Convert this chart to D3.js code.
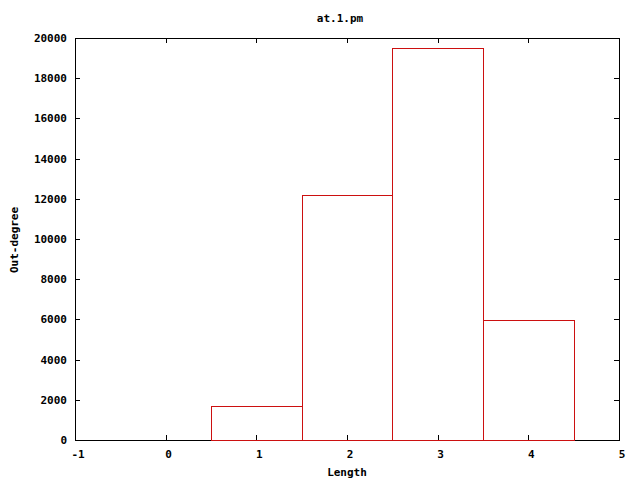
<!DOCTYPE html>
<html><head><meta charset="utf-8">
<script src="https://cdn.jsdelivr.net/npm/d3@7"></script>
<style>body{margin:0;background:#fff}svg{display:block}text{font-family:"DejaVu Sans Mono",monospace;font-weight:bold;font-size:11px;fill:#000}</style>
</head><body>
<svg id="c" width="640" height="480"></svg>
<script>
const categories = [1, 2, 3, 4];
const values = [1700, 12200, 19500, 5950];
const xTicks = [-1, 0, 1, 2, 3, 4, 5];
const yTicks = [0, 2000, 4000, 6000, 8000, 10000, 12000, 14000, 16000, 18000, 20000];
const title = "at.1.pm", xLabel = "Length", yLabel = "Out-degree";

const svg = d3.select("#c");
const L = 75, R = 619, T = 38, B = 440;
const x = d3.scaleLinear().domain([-1, 5]).range([L, R]);
const y = d3.scaleLinear().domain([0, 20000]).range([B, T]);
const tl = 5;

const ax = svg.append("g").attr("stroke", "#000").attr("stroke-width", 1).attr("shape-rendering", "crispEdges");
yTicks.forEach(v => {
  const yy = Math.round(y(v)) + 0.5;
  ax.append("line").attr("x1", L).attr("x2", L + tl).attr("y1", yy).attr("y2", yy);
  ax.append("line").attr("x1", R - tl).attr("x2", R).attr("y1", yy).attr("y2", yy);
});
xTicks.forEach(v => {
  const xx = Math.round(x(v)) + 0.5;
  ax.append("line").attr("x1", xx).attr("x2", xx).attr("y1", B).attr("y2", B - tl);
  ax.append("line").attr("x1", xx).attr("x2", xx).attr("y1", T).attr("y2", T + tl);
});

const bw = 1;
svg.append("g").selectAll("rect").data(categories).join("rect")
  .attr("x", (d) => Math.round(x(d - bw / 2)) + 0.5)
  .attr("width", (d) => Math.round(x(d + bw / 2)) - Math.round(x(d - bw / 2)))
  .attr("y", (d, i) => Math.round(y(values[i])) + 0.5)
  .attr("height", (d, i) => Math.round(B) - Math.round(y(values[i])))
  .attr("fill", "none").attr("stroke", "#cc1010").attr("stroke-width", 1)
  .attr("shape-rendering", "crispEdges");

ax.append("rect").attr("x", L + 0.5).attr("y", T + 0.5).attr("width", R - L).attr("height", B - T).attr("fill", "none");

svg.append("g").selectAll("text").data(yTicks).join("text")
  .attr("x", L - 8).attr("y", d => y(d) + 4).attr("text-anchor", "end").text(d => d);
svg.append("g").selectAll("text").data(xTicks).join("text")
  .attr("x", d => x(d) + 3).attr("y", B + 18).attr("text-anchor", "middle").text(d => d);

svg.append("text").attr("x", 347).attr("y", 476).attr("text-anchor", "middle").text(xLabel);
svg.append("text").attr("x", 340).attr("y", 22).attr("text-anchor", "middle").text(title);
svg.append("text").attr("transform", "translate(18,240) rotate(-90)").attr("text-anchor", "middle").text(yLabel);
</script>
</body></html>
